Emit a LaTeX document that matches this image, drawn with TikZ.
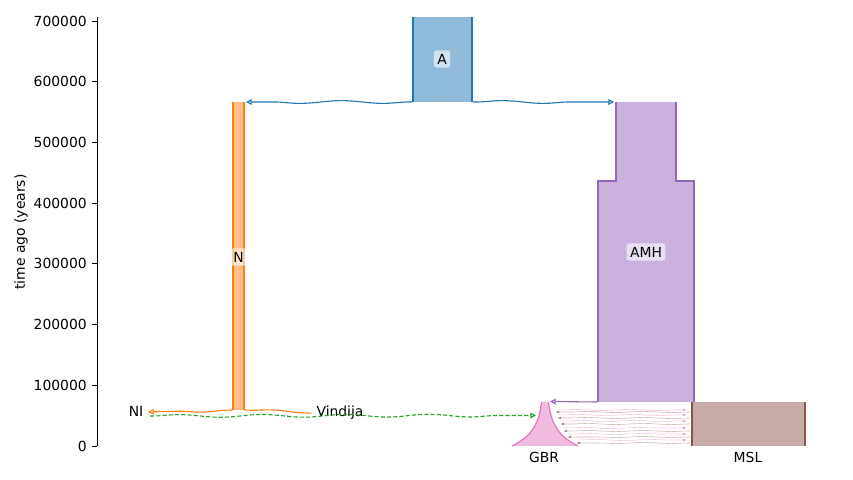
\documentclass[tikz,border=0pt]{standalone}
\usepackage{fontspec}
\setmainfont{DejaVu Sans}
\usetikzlibrary{arrows.meta,positioning,calc,decorations.pathmorphing}

\definecolor{cA}{HTML}{1F77B4}
\definecolor{cN}{HTML}{FF7F0E}
\definecolor{cNI}{HTML}{2CA02C}
\definecolor{cAMH}{HTML}{9467BD}
\definecolor{cMSL}{HTML}{8C564B}
\definecolor{cGBR}{HTML}{E377C2}

\begin{document}
\begin{tikzpicture}[
    x=0.72pt, y=0.72pt,
    demefill/.style={fill=#1!50!white},
    demeedge/.style={draw=#1, line width=0.9pt},
    demelabel/.style={fill=white, fill opacity=0.6, text opacity=1, rounded corners=2pt, inner sep=2.5pt},
    pulse/.style={draw=#1, line width=0.8pt, -{Triangle[open, length=4pt, width=4pt]}, decorate,
        decoration={snake, amplitude=1pt, segment length=60pt, pre length=2pt, post length=4pt}},
    migr/.style={draw=#1, line width=0.4pt, draw opacity=0.4, decorate,
        decoration={snake, amplitude=0.4pt, segment length=40pt, pre length=1pt, post length=3pt}}
]
    \useasboundingbox (0,0) rectangle (853,480);

    % Axis
    \draw [line width=0.6pt] (97,34) -- (97,463);
    \foreach \lab [count=\k from 0] in {0,100000,200000,300000,400000,500000,600000,700000} {
        \draw [line width=0.6pt] (92,{34+60.71*\k}) -- (97,{34+60.71*\k});
        \node [anchor=east, inner sep=0pt] (tick\k) at (87,{34+60.71*\k}) {\lab};
    }
    \node [rotate=90] (ylabel) at (21,248) {time ago (years)};

    % Demes
    \fill [demefill=cA] (413,378) rectangle (472,463);
    \draw [demeedge=cA] (413,378) -- (413,463) (472,378) -- (472,463);
    \fill [demefill=cN] (233,70) rectangle (244,378);
    \draw [demeedge=cN] (233,70) -- (233,378) (244,70) -- (244,378);
    \fill [demefill=cAMH] (598,78) -- (598,299) -- (616,299) -- (616,378)
        -- (676,378) -- (676,299) -- (694,299) -- (694,78) -- cycle;
    \draw [demeedge=cAMH] (598,78) -- (598,299) -- (616,299) -- (616,378);
    \draw [demeedge=cAMH] (694,78) -- (694,299) -- (676,299) -- (676,378);
    \fill [demefill=cMSL] (692,34) rectangle (805,78);
    \draw [demeedge=cMSL] (692,34) -- (692,78) (805,34) -- (805,78);
    \fill [demefill=cGBR] plot[domain=0:44, samples=40] ({541.5-29.5*(exp(0.065*\x)-1)/16.46}, {78-\x})
        -- plot[domain=44:0, samples=40] ({548.5+29.5*(exp(0.065*\x)-1)/16.46}, {78-\x}) -- cycle;
    \draw [demeedge=cGBR] plot[domain=0:44, samples=40] ({541.5-29.5*(exp(0.065*\x)-1)/16.46}, {78-\x});
    \draw [demeedge=cGBR] plot[domain=0:44, samples=40] ({548.5+29.5*(exp(0.065*\x)-1)/16.46}, {78-\x});

    % Nodes
    \node [demelabel] (A) at (442,421) {A};
    \node [demelabel] (N) at (238.5,223) {N};
    \node [demelabel] (AMH) at (646,228) {AMH};
    \node [anchor=base] (NI) at (136,63) {NI};
    \node [anchor=base] (Vindija) at (340,63) {Vindija};
    \node [anchor=base] (GBR) at (544,17) {GBR};
    \node [anchor=base] (MSL) at (748,17) {MSL};

    \coordinate (A-l) at (412,378);
    \coordinate (A-r) at (473,378);
    \coordinate (N-top) at (246,378);
    \coordinate (AMH-top) at (614,378);
    \coordinate (N-l) at (232,70);
    \coordinate (N-r) at (245,70);
    \coordinate (AMH-bot) at (597,78);
    \coordinate (GBR-top) at (550,78.5);
    \coordinate (GBR-in) at (536,64.5);
    \coordinate (NI-out) at (150,64);

    % Connections
    \draw [pulse=cA] (A-l) -- (N-top);
    \draw [pulse=cA] (A-r) -- (AMH-top);
    \draw [pulse=cN] (N-l) -- (NI.east);
    \draw [draw=cN, line width=0.8pt, decorate,
        decoration={snake, amplitude=1pt, segment length=60pt, pre length=2pt, post length=2pt}]
        (N-r) -- (Vindija.west);
    \draw [pulse=cNI, dash pattern=on 3pt off 1.5pt] (NI-out) -- (GBR-in);
    \draw [pulse=cAMH] (AMH-bot) -- (GBR-top);

    % Migrations GBR <-> MSL
    \foreach \yp/\yb/\xb [count=\i] in {410/412/556, 415/418/558, 421/424/561, 428/431/564, 434/437/568, 440/443/577} {
        \coordinate (gbr-out\i) at (\xb,{480-\yp});
        \coordinate (msl-in\i) at (686,{480-\yp});
        \coordinate (msl-out\i) at (690,{480-\yb});
        \coordinate (gbr-in\i) at (\xb,{480-\yb});
        \draw [migr=cGBR] (gbr-out\i) -- (msl-in\i);
        \draw [migr=cMSL] (msl-out\i) -- (gbr-in\i);
        \fill [cGBR, opacity=0.7] (msl-in\i) -- ++(-3,1.2) -- ++(0,-2.4) -- cycle;
        \fill [cMSL, opacity=0.7] (gbr-in\i) -- ++(3,1.2) -- ++(0,-2.4) -- cycle;
    }
\end{tikzpicture}
\end{document}
